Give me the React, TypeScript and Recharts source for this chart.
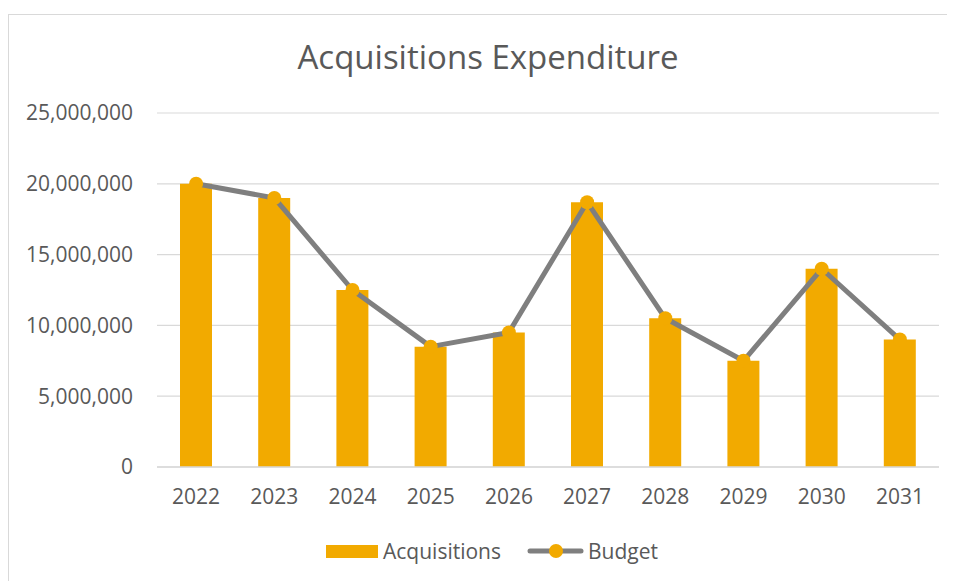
import { ComposedChart, Bar, Line, XAxis, YAxis, CartesianGrid, Legend } from 'recharts'

const years = ['2022', '2023', '2024', '2025', '2026', '2027', '2028', '2029', '2030', '2031']
const acquisitions = [20000000, 19000000, 12500000, 8500000, 9500000, 18700000, 10500000, 7500000, 14000000, 9000000]
const budget = [20000000, 19000000, 12500000, 8500000, 9500000, 18700000, 10500000, 7500000, 14000000, 9000000]
const yTicks = [0, 5000000, 10000000, 15000000, 20000000, 25000000]

const data = years.map((year, i) => ({ year, Acquisitions: acquisitions[i], Budget: budget[i] }))

const FONT = '"Open Sans", sans-serif'
const TEXT = '#595959'
const GOLD = '#F2AA00'
const GREY = '#7F7F7F'

function LegendContent() {
  return (
    <div style={{ display: 'flex', alignItems: 'center', justifyContent: 'center', height: 28, fontFamily: FONT, fontSize: 21, color: TEXT }}>
      <span style={{ display: 'inline-block', width: 52, height: 13, background: GOLD, marginRight: 5 }} />
      <span style={{ marginRight: 26 }}>Acquisitions</span>
      <svg width={57} height={16} style={{ marginRight: 4 }}>
        <line x1={3} y1={8} x2={54} y2={8} stroke={GREY} strokeWidth={5} strokeLinecap="round" />
        <circle cx={29} cy={8} r={7} fill={GOLD} />
      </svg>
      <span>Budget</span>
    </div>
  )
}

export default function App() {
  return (
    <div
      style={{
        position: 'relative',
        marginTop: 6,
        width: 947,
        height: 567,
        boxSizing: 'border-box',
        borderTop: '1px solid #d9d9d9',
        borderLeft: '1px solid #d9d9d9',
        background: '#fff',
      }}
    >
      <div
        style={{
          position: 'absolute',
          top: 25,
          left: 6,
          width: 946,
          textAlign: 'center',
          fontFamily: FONT,
          fontSize: 33,
          lineHeight: 1,
          color: TEXT,
        }}
      >
        Acquisitions Expenditure
      </div>
      <ComposedChart width={946} height={566} data={data} margin={{ top: 98, right: 16, bottom: 74, left: 0 }}>
        <CartesianGrid vertical={false} stroke="#d9d9d9" strokeWidth={1.2} />
        <XAxis
          dataKey="year"
          height={40}
          tickLine={false}
          tickSize={0}
          tickMargin={22}
          axisLine={{ stroke: '#d9d9d9', strokeWidth: 1.5 }}
          tick={{ fontFamily: FONT, fontSize: 21, fill: TEXT }}
        />
        <YAxis
          width={148}
          domain={[0, 25000000]}
          ticks={yTicks}
          axisLine={false}
          tickLine={false}
          tickSize={0}
          tickMargin={24}
          tickFormatter={(v: number) => v.toLocaleString('en-US')}
          tick={{ fontFamily: FONT, fontSize: 21, fill: TEXT }}
        />
        <Legend
          layout="horizontal"
          verticalAlign="middle"
          align="center"
          wrapperStyle={{ top: 522, left: 10, width: 946, height: 28 }}
          content={() => <LegendContent />}
        />
        <Bar dataKey="Acquisitions" fill={GOLD} barSize={32} isAnimationActive={false} />
        <Line
          dataKey="Budget"
          stroke={GREY}
          strokeWidth={5}
          strokeLinejoin="round"
          dot={{ r: 7, fill: GOLD, stroke: 'none' }}
          activeDot={false}
          isAnimationActive={false}
        />
      </ComposedChart>
    </div>
  )
}
